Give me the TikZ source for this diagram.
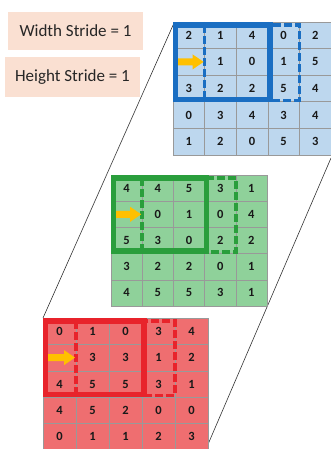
\documentclass[tikz,border=0pt]{standalone}
\usepackage{fontspec}
\setmainfont{Carlito}
\definecolor{bluefill}{HTML}{BDD7EE}
\definecolor{blueedge}{HTML}{1A6EC2}
\definecolor{greenfill}{HTML}{8FD19A}
\definecolor{greenedge}{HTML}{2A9E3C}
\definecolor{redfill}{HTML}{EF6E70}
\definecolor{rededge}{HTML}{E8232B}
\definecolor{peach}{HTML}{FAE0D2}
\definecolor{arrowyellow}{HTML}{FFC000}
\tikzset{
  gridline/.style={draw=black!40, line width=0.6pt},
  num/.style={font=\fontsize{12.5}{12.5}\selectfont\bfseries, text=black!90, inner sep=0pt},
  solidbox/.style={line width=5.5pt},
  dashbox/.style={line width=3.5pt, dash pattern=on 8pt off 3pt},
  labelbox/.style={fill=peach, minimum width=135pt, minimum height=38pt, inner sep=0pt,
    font=\fontsize{17}{17}\selectfont, text=black!85},
  stridearrow/.style={fill=arrowyellow},
  guide/.style={draw=black!80, line width=0.6pt}
}
% #1 name, #2 x0, #3 y0, #4 cell width, #5 cell height, #6 fill, #7 border, #8 rows
\newcommand\convgrid[8]{%
  \fill[#6] (#2,#3) rectangle (#2+5*#4,#3+5*#5);
  \foreach \i in {1,...,4}{
    \draw[gridline] (#2+\i*#4,#3) -- (#2+\i*#4,#3+5*#5);
    \draw[gridline] (#2,#3+\i*#5) -- (#2+5*#4,#3+\i*#5);
  }
  \draw[gridline] (#2,#3) rectangle (#2+5*#4,#3+5*#5);
  \foreach \row [count=\r] in {#8}{
    \foreach \v [count=\c] in \row {
      \node[num] (#1-\r-\c) at (#2+\c*#4-0.5*#4, #3+\r*#5-0.5*#5) {\v};
    }
  }
  \draw[#7, dashbox] (#2+#4, #3+3) rectangle (#2+4*#4, #3+3*#5-1.5);
  \draw[#7, solidbox] (#2+2.5, #3+2.8) rectangle (#2+3*#4+2, #3+3*#5-2.5);
  \fill[stridearrow] (#2+5, #3+1.5*#5-3.5) -- (#2+#4-12, #3+1.5*#5-3.5)
    -- (#2+#4-12, #3+1.5*#5-7.5) -- (#2+#4-1, #3+1.5*#5)
    -- (#2+#4-12, #3+1.5*#5+7.5) -- (#2+#4-12, #3+1.5*#5+3.5)
    -- (#2+5, #3+1.5*#5+3.5) -- cycle;
}
\begin{document}
\begin{tikzpicture}[x=1pt,y=-1pt]
\useasboundingbox (0,0) rectangle (331,449);
\coordinate (lt) at (174,23);
\coordinate (lb) at (43,318);
\coordinate (rt) at (331,158);
\coordinate (rb) at (206,449);
\draw[guide] (lt) -- (lb);
\draw[guide] (rt) -- (rb);
\convgrid{b}{173}{22}{31.6}{26.6}{bluefill}{blueedge}{{2,1,4,0,2},{{},1,0,1,5},{3,2,2,5,4},{0,3,4,3,4},{1,2,0,5,3}}
\convgrid{g}{111}{175}{31.2}{26.2}{greenfill}{greenedge}{{4,4,5,3,1},{{},0,1,0,4},{5,3,0,2,2},{3,2,2,0,1},{4,5,5,3,1}}
\convgrid{r}{43}{318}{33}{26.4}{redfill}{rededge}{{0,1,0,3,4},{{},3,3,1,2},{4,5,5,3,1},{4,5,2,0,0},{0,1,1,2,3}}
\node[labelbox] (ws) at (75.5,31) {Width Stride = 1};
\node[labelbox, minimum height=40pt] (hs) at (72.5,77) {Height Stride = 1};
\end{tikzpicture}
\end{document}
